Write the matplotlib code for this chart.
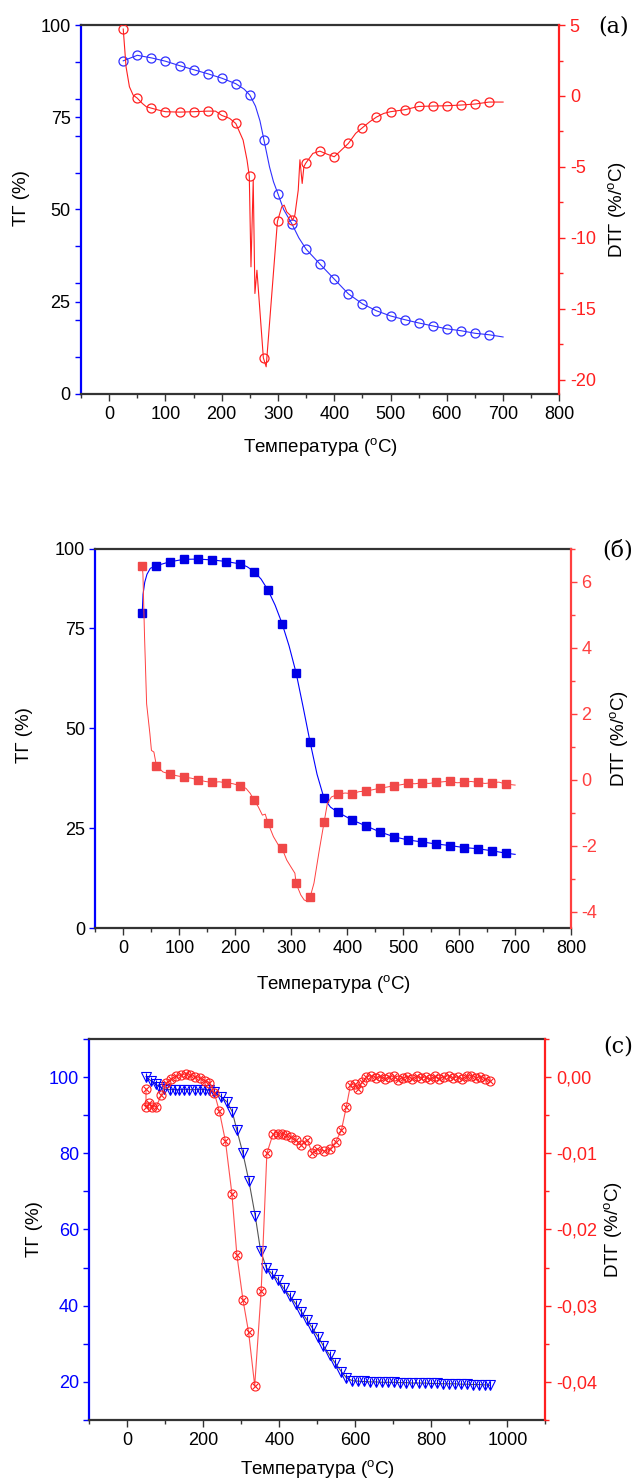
import matplotlib
matplotlib.use('Agg')
import matplotlib.pyplot as plt
from matplotlib.ticker import MultipleLocator, FixedLocator, FuncFormatter

plt.rcParams['font.family'] = ['Liberation Sans', 'DejaVu Sans']
plt.rcParams['axes.unicode_minus'] = False

# ---------------- (a) ----------------
tg_a_x = [25, 50, 75, 100, 125, 150, 175, 200, 225, 250, 275, 300, 325, 350,
          375, 400, 425, 450, 475, 500, 525, 550, 575, 600, 625, 650, 675]
tg_a_y = [90.3, 91.8, 91.1, 90.2, 89.0, 87.9, 86.8, 85.6, 84.1, 81.0, 68.9, 54.2, 46.0, 39.2,
          35.1, 31.1, 27.1, 24.4, 22.5, 21.1, 20.1, 19.2, 18.4, 17.6, 17.1, 16.4, 16.0]
tg_a_line_x = [25, 50, 75, 100, 125, 150, 175, 200, 225, 240, 250, 260, 268, 275, 285, 292,
               300, 310, 325, 337, 350, 375, 400, 425, 450, 475, 500, 525, 550, 575, 600,
               625, 650, 675, 700]
tg_a_line_y = [90.3, 91.8, 91.1, 90.2, 89.0, 87.9, 86.8, 85.6, 84.1, 82.6, 81.0, 78.0, 74.0,
               68.9, 61.5, 57.5, 54.2, 50.0, 46.0, 42.3, 39.2, 35.1, 31.1, 27.1, 24.4, 22.5,
               21.1, 20.1, 19.2, 18.4, 17.6, 17.1, 16.4, 16.0, 15.4]

dtg_a_x = tg_a_x
dtg_a_y = [4.72, -0.15, -0.86, -1.11, -1.14, -1.11, -1.07, -1.37, -1.94, -5.65, -18.47, -8.85,
           -8.76, -4.76, -3.89, -4.29, -3.35, -2.24, -1.49, -1.11, -0.97, -0.74, -0.71, -0.69,
           -0.64, -0.57, -0.43]
dtg_a_line_x = [25, 30, 36, 42.6, 49.8, 59, 66, 75, 88, 100, 125, 150, 175, 189, 200, 214, 225,
                238, 245, 249, 252, 256, 259, 262.6, 274, 279, 299, 306.7, 311, 315.6, 321.5,
                326, 330, 336, 339, 343, 346, 349, 362, 374.5, 387, 400, 413, 425, 438, 450,
                463, 475, 488, 500, 525, 550, 575, 600, 625, 650, 675, 700]
dtg_a_line_y = [4.72, 2.06, 0.65, 0.06, -0.15, -0.53, -0.76, -0.86, -1.0, -1.11, -1.14, -1.11,
                -1.07, -1.07, -1.37, -1.58, -1.94, -3.11, -4.52, -5.65, -12.05, -5.94, -13.93,
                -12.29, -18.47, -19.1, -8.85, -7.82, -7.7, -8.18, -8.4, -8.76, -8.4, -6.64,
                -4.5, -6.17, -5.0, -4.76, -4.05, -3.89, -4.1, -4.29, -3.8, -3.35, -2.64, -2.24,
                -1.82, -1.49, -1.23, -1.11, -0.97, -0.74, -0.71, -0.69, -0.64, -0.57, -0.43,
                -0.43]

# ---------------- (б) ----------------
tg_b_x = [33.5, 58.5, 83.5, 108.5, 133.5, 158.5, 183.5, 208.5, 233.5, 258.5, 283.5, 308.5,
          333.5, 358.5, 383.5, 408.5, 433.5, 458.5, 483.5, 508.5, 533.5, 558.5, 583.5, 608.5,
          633.5, 658.5, 683.5]
tg_b_y = [78.75, 90.65, 91.65, 92.25, 92.3, 92.1, 91.7, 91.1, 89.2, 84.5, 76.2, 63.9, 46.6,
          32.5, 29.0, 27.1, 25.6, 24.1, 22.9, 22.1, 21.6, 21.1, 20.7, 20.2, 19.9, 19.4, 18.8]
tg_b_line_x = [33.5, 35, 38, 42, 48, 58.5, 83.5, 108.5, 133.5, 158.5, 183.5, 208.5, 221, 233.5,
               246, 258.5, 271, 283.5, 296, 308.5, 321, 333.5, 346, 358.5, 370, 383.5, 408.5,
               433.5, 458.5, 483.5, 508.5, 533.5, 558.5, 583.5, 608.5, 633.5, 658.5, 683.5, 700]
tg_b_line_y = [78.75, 83.5, 86.5, 88.5, 90.0, 90.65, 91.65, 92.25, 92.3, 92.1, 91.7, 91.1, 90.4,
               89.2, 87.3, 84.5, 80.8, 76.2, 70.6, 63.9, 55.4, 46.6, 38.5, 32.5, 30.3, 29.0,
               27.1, 25.6, 24.1, 22.9, 22.1, 21.6, 21.1, 20.7, 20.2, 19.9, 19.4, 18.8, 18.5]

dtg_b_x = tg_b_x
dtg_b_y = [6.48, 0.43, 0.17, 0.08, 0.0, -0.08, -0.09, -0.18, -0.62, -1.32, -2.08, -3.14, -3.56,
           -1.29, -0.44, -0.42, -0.34, -0.25, -0.18, -0.11, -0.09, -0.08, -0.04, -0.08, -0.08,
           -0.09, -0.13]
dtg_b_line_x = [33.5, 34.8, 37.7, 41.4, 47.2, 50, 54.4, 58.8, 70.4, 83.5, 96, 108.5, 121, 133.5,
                146, 158.5, 171, 183.5, 196, 208.5, 219, 226.5, 233.5, 241, 248.3, 253.4, 258.5,
                268, 277, 283.5, 291.8, 299, 306.4, 308.5, 317, 323, 330, 333.5, 340.5, 350,
                358.5, 364.4, 371.7, 383.5, 396, 408.5, 421, 433.5, 446, 458.5, 471, 483.5, 496,
                508.5, 521, 533.5, 546, 558.5, 571, 583.5, 596, 608.5, 621, 633.5, 646, 658.5,
                671, 683.5, 700]
dtg_b_line_y = [6.48, 6.23, 4.32, 2.30, 1.40, 0.89, 0.84, 0.43, 0.24, 0.17, 0.12, 0.08, 0.05,
                0.0, -0.05, -0.08, -0.06, -0.09, -0.12, -0.18, -0.26, -0.41, -0.62, -0.82,
                -1.07, -1.04, -1.32, -1.72, -1.98, -2.08, -2.43, -2.63, -2.83, -3.14, -3.49,
                -3.64, -3.69, -3.56, -3.13, -2.13, -1.29, -0.72, -0.52, -0.44, -0.40, -0.42,
                -0.36, -0.34, -0.30, -0.25, -0.22, -0.18, -0.15, -0.11, -0.12, -0.09, -0.11,
                -0.08, -0.06, -0.04, -0.09, -0.08, -0.05, -0.08, -0.11, -0.09, -0.07, -0.13,
                -0.16]

# ---------------- (c) ----------------
tg_c_x = [49, 62, 74, 84, 97.5, 111, 124, 137, 150, 163, 177, 190, 203, 216, 229, 247, 262, 276,
          288, 304, 320, 336.5, 350.5, 365.4, 381, 396, 411, 427, 443, 458, 472, 487, 501.5,
          516, 532, 547, 563, 576, 592, 607, 622, 638, 654, 670, 686, 702, 718, 734, 750, 766,
          782, 798, 814, 830, 846, 862, 878, 894, 910, 926, 942, 955]
tg_c_y = [100.1, 99.0, 98.2, 97.5, 96.8, 96.7, 96.7, 96.7, 96.7, 96.7, 96.7, 96.7, 96.7, 96.6,
          96.0, 94.8, 93.5, 90.9, 86.1, 80.0, 72.6, 63.5, 54.4, 50.0, 48.3, 46.8, 44.6, 42.6,
          40.5, 38.4, 36.3, 34.1, 31.9, 29.4, 27.1, 24.9, 22.7, 21.1, 20.3, 20.2, 20.1, 20.0,
          20.0, 19.9, 19.9, 19.9, 19.8, 19.8, 19.7, 19.7, 19.7, 19.6, 19.6, 19.5, 19.5, 19.5,
          19.4, 19.4, 19.3, 19.3, 19.2, 19.1]

dtg_c_x = [49, 49, 58, 65, 75.6, 89, 102, 115, 128, 141.5, 153, 165, 179, 191.5, 205.5, 216,
           229, 242, 258, 275, 288, 304, 319, 335, 352, 367, 383, 396, 407.6, 418, 429.5, 442.7,
           456, 472.5, 486.6, 500, 516.5, 532, 548, 563, 576, 587, 598, 607, 618.5, 629, 641,
           653, 665, 677, 689, 701, 713, 725, 737, 749, 761, 773, 785, 797, 809, 821, 833, 845,
           857, 869, 881, 893, 905, 917, 929, 941, 953]
dtg_c_y = [-1.6, -3.9, -3.4, -3.9, -3.9, -2.4, -0.8, -0.2, 0.1, 0.26, 0.39, 0.26, 0.04, -0.17,
           -0.48, -0.74, -2.1, -4.5, -8.4, -15.3, -23.3, -29.2, -33.5, -40.5, -28.1, -10.0,
           -7.5, -7.5, -7.5, -7.6, -7.9, -8.3, -8.9, -8.2, -10.0, -9.4, -9.7, -9.5, -8.5, -7.0,
           -3.9, -1.05, -0.9, -1.5, -0.6, 0.0, 0.2, -0.1, 0.1, -0.2, 0.0, 0.1, -0.4, -0.1, 0.0,
           -0.2, 0.1, -0.1, 0.0, -0.3, 0.1, -0.2, 0.0, 0.2, -0.1, 0.0, -0.2, 0.1, 0.2, -0.1,
           0.0, -0.2, -0.5]
dtg_c_y = [v / 1000 for v in dtg_c_y]

BLUE = '#0000ff'
RED = '#ff2020'
GREY = '#333333'
XLAB = 'Температура ($\\mathregular{^o}$C)'
YLAB = 'ТГ (%)'
Y2LAB = 'DТГ (%/$\\mathregular{^o}$C)'


def style(ax, ax2, left_lab_col):
    '''оси: синяя слева, красная справа'''
    ax.spines['left'].set_color(BLUE)
    ax.spines['left'].set_linewidth(1.6)
    for s in ['top', 'bottom']:
        ax.spines[s].set_color(GREY)
        ax.spines[s].set_linewidth(1.6)
    ax.spines['right'].set_visible(False)
    for s in ['left', 'top', 'bottom']:
        ax2.spines[s].set_visible(False)
    ax2.spines['right'].set_color(RED)
    ax2.spines['right'].set_linewidth(1.6)
    ax.tick_params(axis='y', which='both', direction='out', colors=BLUE,
                   labelcolor=left_lab_col, labelsize=13, length=4, width=1)
    ax.tick_params(axis='x', which='major', direction='out', colors=GREY,
                   labelcolor='black', labelsize=13, length=5, width=1)
    ax.tick_params(axis='x', which='minor', direction='out', colors=GREY, length=3, width=1)
    ax2.tick_params(axis='y', which='both', direction='out', colors=RED,
                    labelcolor=RED, labelsize=13, length=4, width=1)
    ax2.tick_params(axis='y', which='minor', length=3)


fig = plt.figure(figsize=(6.37, 14.83), dpi=100)

# (a)
ax = fig.add_axes([0.1272, 0.7345, 0.7509, 0.2486])
ax2 = ax.twinx()
ax.plot(tg_a_line_x, tg_a_line_y, color='#3030ff', lw=0.8)
ax.plot(tg_a_x, tg_a_y, ls='none', marker='o', ms=6.5, mfc='none', mec='#3030ff', mew=0.9)
ax2.plot(dtg_a_line_x, dtg_a_line_y, color=RED, lw=0.8)
ax2.plot(dtg_a_x, dtg_a_y, ls='none', marker='o', ms=6.5, mfc='none', mec=RED, mew=0.9)
ax.set_xlim(-50, 800)
ax.set_ylim(0, 100)
ax2.set_ylim(-21, 5)
ax.xaxis.set_major_locator(MultipleLocator(100))
ax.xaxis.set_minor_locator(MultipleLocator(50))
ax.yaxis.set_major_locator(FixedLocator([0, 25, 50, 75, 100]))
ax.yaxis.set_minor_locator(FixedLocator([10, 20, 30, 40, 60, 70, 80, 90]))
ax2.yaxis.set_major_locator(MultipleLocator(5))
ax2.yaxis.set_minor_locator(MultipleLocator(2.5))
style(ax, ax2, 'black')
ax.set_xlabel(XLAB, fontsize=13.5)
ax.set_ylabel(YLAB, fontsize=13.5)
ax2.set_ylabel(Y2LAB, fontsize=13.5)
ax.xaxis.set_label_coords(0.5, -0.115)
ax.yaxis.set_label_coords(-0.107, 0.53)
ax2.yaxis.set_label_coords(1.098, 0.5)
fig.text(614 / 637, 1 - 27 / 1483, '(a)', family='DejaVu Serif', fontsize=16,
         ha='center', va='center')

# (б)
ax = fig.add_axes([0.1499, 0.3740, 0.7466, 0.2560])
ax2 = ax.twinx()
ax.plot(tg_b_line_x, tg_b_line_y, color=BLUE, lw=0.8)
ax.plot(tg_b_x, tg_b_y, ls='none', marker='s', ms=5.5, color='#0000e6')
ax2.plot(dtg_b_line_x, dtg_b_line_y, color='#ff4040', lw=0.7)
ax2.plot(dtg_b_x, dtg_b_y, ls='none', marker='s', ms=5.5, color='#f04848')
ax.set_xlim(-50, 800)
ax.set_ylim(0, 94.9)
ax2.set_ylim(-4.5, 7)
ax.xaxis.set_major_locator(MultipleLocator(100))
ax.xaxis.set_minor_locator(MultipleLocator(50))
ax.yaxis.set_major_locator(FixedLocator([0, 25, 50, 75, 94.9]))
ax.yaxis.set_major_formatter(FuncFormatter(lambda v, p: '100' if v > 90 else f'{v:.0f}'))
ax2.yaxis.set_major_locator(MultipleLocator(2))
ax2.yaxis.set_minor_locator(MultipleLocator(1))
style(ax, ax2, 'black')
ax2.tick_params(axis='y', which='both', colors='#ff4040', labelcolor='#ff4040')
ax2.spines['right'].set_color('#ff4040')
ax.set_xlabel(XLAB, fontsize=13.5)
ax.set_ylabel(YLAB, fontsize=13.5)
ax2.set_ylabel(Y2LAB, fontsize=13.5)
ax.xaxis.set_label_coords(0.5, -0.118)
ax.yaxis.set_label_coords(-0.132, 0.51)
ax2.yaxis.set_label_coords(1.078, 0.5)
fig.text(618 / 637, 1 - 551 / 1483, '(б)', family='DejaVu Serif', fontsize=16,
         ha='center', va='center')

# (c)
ax = fig.add_axes([0.1403, 0.0425, 0.7160, 0.2569])
ax2 = ax.twinx()
ax.plot(tg_c_x, tg_c_y, color='#555555', lw=0.8)
ax.plot(tg_c_x, tg_c_y, ls='none', marker='v', ms=6.5, mfc='none', mec=BLUE, mew=0.8)
ax.plot(tg_c_x, tg_c_y, ls='none', marker='|', ms=6, mec=BLUE, mew=0.8)
ax2.plot(dtg_c_x, dtg_c_y, color='#ff5050', lw=0.8)
ax2.plot(dtg_c_x, dtg_c_y, ls='none', marker='o', ms=6.5, mfc='none', mec=RED, mew=0.8)
ax2.plot(dtg_c_x, dtg_c_y, ls='none', marker='x', ms=4.5, mec=RED, mew=0.8)
ax.set_xlim(-100, 1100)
ax.set_ylim(10, 110)
ax2.set_ylim(-0.045, 0.005)
ax.xaxis.set_major_locator(MultipleLocator(200))
ax.xaxis.set_minor_locator(MultipleLocator(100))
ax.yaxis.set_major_locator(MultipleLocator(20))
ax.yaxis.set_minor_locator(MultipleLocator(10))
ax2.yaxis.set_major_locator(FixedLocator([0, -0.01, -0.02, -0.03, -0.04]))
ax2.yaxis.set_minor_locator(FixedLocator([0.005, -0.005, -0.015, -0.025, -0.035, -0.045]))
ax2.yaxis.set_major_formatter(FuncFormatter(
    lambda v, p: '0,00' if abs(v) < 1e-9 else f'{v:.2f}'.replace('.', ',')))
style(ax, ax2, BLUE)
ax.set_xlabel(XLAB, fontsize=13.5)
ax.set_ylabel(YLAB, fontsize=13.5)
ax2.set_ylabel(Y2LAB, fontsize=13.5)
ax.xaxis.set_label_coords(0.5, -0.099)
ax.yaxis.set_label_coords(-0.102, 0.5)
ax2.yaxis.set_label_coords(1.124, 0.5)
fig.text(618 / 637, 1 - 1046 / 1483, '(c)', family='DejaVu Serif', fontsize=16,
         ha='center', va='center')

plt.savefig('out.png', dpi=100)
